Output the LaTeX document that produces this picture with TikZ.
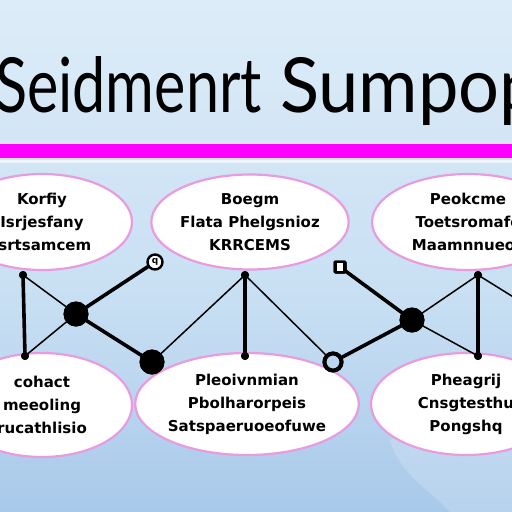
\documentclass[tikz,border=0pt]{standalone}
\usepackage{fontspec}
\setmainfont{DejaVu Sans}
\newfontfamily\titlefont{Lato}
\usetikzlibrary{shapes.geometric}
\definecolor{bgtop}{HTML}{DDECF8}
\definecolor{bgmid}{HTML}{C8DFF3}
\definecolor{bgbot}{HTML}{A8C9EA}
\definecolor{pinkedge}{HTML}{E99BE0}
\definecolor{barmag}{HTML}{FF00FF}
\definecolor{ringfill}{HTML}{B9D6EE}
\begin{document}
\begin{tikzpicture}[x=1pt,y=-1pt,
  ell/.style={ellipse, draw=pinkedge, line width=2.2pt, fill=white, inner sep=0pt, align=center,
     font=\bfseries\fontsize{15}{23}\selectfont},
  dotsm/.style={circle, fill=black, inner sep=0pt, minimum size=8pt},
  dotbig/.style={circle, fill=black, inner sep=0pt, minimum size=25pt},
  ring/.style={circle, draw=black, line width=4pt, fill=ringfill, inner sep=0pt, minimum size=17pt},
  iconbox/.style={rounded corners=2pt, fill=black, inner sep=0pt, minimum width=13pt, minimum height=13pt},
  titletext/.style={anchor=base west, inner sep=0pt, font=\titlefont\fontsize{76}{80}\selectfont},
  thickedge/.style={line width=3.6pt, line cap=round},
  thinedge/.style={line width=1.5pt, line cap=round}]
\useasboundingbox (0,0) rectangle (512,512);
\clip (0,0) rectangle (512,512);
% background
\shade[top color=bgtop, bottom color=bgmid] (0,0) rectangle (512,300);
\shade[top color=bgmid, bottom color=bgbot] (0,300) rectangle (512,512);
\fill[white, opacity=0.18] (390,440) .. controls (440,420) and (490,430) .. (512,450) -- (512,512) -- (450,512) .. controls (430,490) and (400,475) .. (390,440) -- cycle;
% title
\node[titletext, xscale=0.78] (t1) at (-5,112) {Seidmenrt};
\node[titletext, xscale=0.95] (t2) at (280,112) {Sumpop};
% bar
\fill[barmag] (0,144) rectangle (512,158);
\fill[white, opacity=0.6] (0,160) rectangle (512,163);
% ellipses
\node[ell, minimum width=180pt, minimum height=96pt] (e1) at (42,222) {Korfiy\\Isrjesfany\\Isrtsamcem};
\node[ell, minimum width=184pt, minimum height=95pt] (e2) at (250,222) {Boegm\\Flata Phelgsnioz\\KRRCEMS};
\node[ell, minimum width=192pt, minimum height=96pt] (e3) at (468,222) {Peokcme\\Toetsromafe\\Maamnnueoz};
\node[ell, minimum width=180pt, minimum height=104pt] (e4) at (42,405) {cohact\\meeoling\\rucathlisio};
\node[ell, minimum width=176pt, minimum height=102pt] (e5) at (247,404) {Pleoivnmian\\Pbolharorpeis\\Satspaeruoeofuwe};
\node[ell, minimum width=190pt, minimum height=102pt] (e6) at (466,404) {Pheagrij\\Cnsgtesthu\\Pongshq};
% nodes
\node[dotsm] (a) at (23,275) {};
\node[dotbig] (b) at (76,314) {};
\node[circle, draw=black, line width=2.4pt, fill=white, inner sep=0pt, minimum size=15pt] (c) at (155,262) {};
\node[font=\bfseries\fontsize{9}{9}\selectfont, inner sep=0pt] (cg) at (155,262) {q};
\node[dotsm] (d) at (245,275) {};
\node[iconbox] (f) at (340,267) {};
\node[dotbig] (g) at (412,320) {};
\node[dotsm] (h) at (478,275) {};
\node[dotsm] (i) at (25,356) {};
\node[dotbig] (j) at (152,362) {};
\node[dotsm] (k) at (245,356) {};
\node[ring] (l) at (333,362) {};
\node[dotsm] (m) at (478,356) {};
\coordinate (r1) at (515,298);
% edges
\draw[thickedge] (a.center) -- (i.center);
\draw[thinedge] (a.center) -- (b.center);
\draw[thinedge] (b.center) -- (i.center);
\draw[thickedge] (b.center) -- (c);
\draw[thickedge] (b.center) -- (j.center);
\draw[thinedge] (j.center) -- (d.center);
\draw[thickedge] (d.center) -- (k.center);
\draw[thinedge] (d.center) -- (l);
\draw[thickedge] (l) -- (g.center);
\draw[thickedge] (f.center) -- (g.center);
\draw[thinedge] (g.center) -- (h.center);
\draw[thinedge] (g.center) -- (m.center);
\draw[thickedge] (h.center) -- (m.center);
\draw[thinedge] (h.center) -- (r1);
% redraw dots on top
\foreach \p in {a,d,h,i,k,m} \node[dotsm] at (\p) {};
\foreach \p in {b,g,j} \node[dotbig] at (\p) {};
\node[ring] at (l) {};
\node[iconbox] at (f) {};
\fill[white] (337,263) rectangle (343,271);
\end{tikzpicture}
\end{document}
